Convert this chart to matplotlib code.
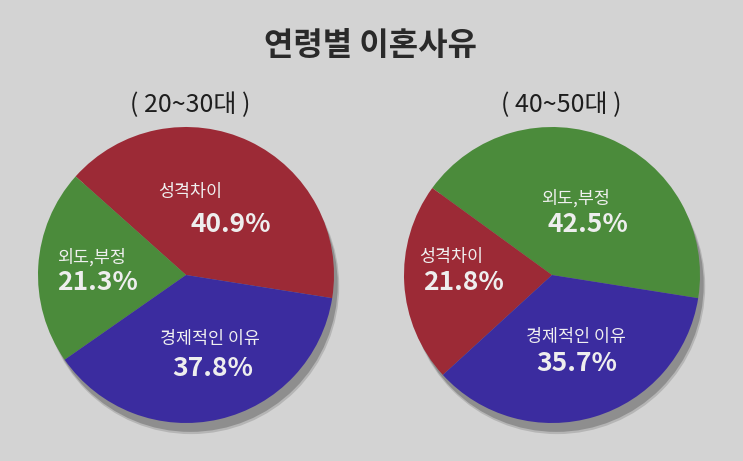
"""
연령별 이혼사유 — two pie charts (20~30대 vs 40~50대) on a gray card.
"""

import matplotlib
matplotlib.use("Agg")
import matplotlib.pyplot as plt
from matplotlib.patches import Circle

plt.rcParams['font.family'] = ['Noto Sans CJK KR', 'DejaVu Sans']

# ------------------------------------------------------------------
TITLE = "연령별 이혼사유"
GROUPS = ["( 20~30대 )", "( 40~50대 )"]

# slices listed counter-clockwise from the right-hand boundary
left_labels = ["성격차이", "외도,부정", "경제적인 이유"]
left_values = [40.9, 21.3, 37.8]
right_labels = ["외도,부정", "성격차이", "경제적인 이유"]
right_values = [42.5, 21.8, 35.7]

COLORS = {"성격차이": "#9c2a36", "외도,부정": "#4b8b3b", "경제적인 이유": "#3b2c9f"}
BG = "#d3d3d3"

# label / percent positions inside each pie (data units, radius = 1)
left_name_xy = [(0.03, 0.56), (-0.64, 0.12), (0.16, -0.43)]
left_pct_xy = [(0.30, 0.34), (-0.60, -0.05), (0.18, -0.63)]
right_name_xy = [(0.16, 0.52), (-0.68, 0.12), (0.16, -0.42)]
right_pct_xy = [(0.24, 0.34), (-0.60, -0.05), (0.17, -0.60)]

W, H = 743, 461
R_PX = 148
LIM = 1.25
CENTERS = [(186, 275), (552, 275)]   # pixel centres of the two pies
# ------------------------------------------------------------------


def draw_pie(ax, labels, values, name_xy, pct_xy):
    # soft drop shadow behind the pie
    ax.add_patch(Circle((0.035, -0.075), 1.0, color="#b5b5b5", lw=0, zorder=0))
    ax.add_patch(Circle((0.03, -0.065), 0.995, color="#8e8e8e", lw=0, zorder=0.5))
    ax.pie(values, colors=[COLORS[l] for l in labels], startangle=-9,
           counterclock=True, radius=1.0,
           wedgeprops=dict(linewidth=0, zorder=1))
    for lab, val, (nx, ny), (px, py) in zip(labels, values, name_xy, pct_xy):
        ax.text(nx, ny, lab, ha="center", va="center", color="#f0f0f0",
                fontsize=12.5, fontweight="medium", zorder=3)
        ax.text(px, py, f"{val:.1f}%", ha="center", va="center",
                color="#eeeeee", fontsize=19, fontweight="bold", zorder=3)
    ax.set_xlim(-LIM, LIM)
    ax.set_ylim(-LIM, LIM)
    ax.set_aspect("equal")
    ax.axis("off")


fig = plt.figure(figsize=(W / 100, H / 100), dpi=100, facecolor=BG)
size = 2 * LIM * R_PX
axes = []
for cx, cy in CENTERS:
    ax = fig.add_axes([(cx - size / 2) / W, (H - cy - size / 2) / H,
                       size / W, size / H])
    ax.patch.set_alpha(0)
    axes.append(ax)

draw_pie(axes[0], left_labels, left_values, left_name_xy, left_pct_xy)
draw_pie(axes[1], right_labels, right_values, right_name_xy, right_pct_xy)

fig.text(370 / W, 1 - 46 / H, TITLE, ha="center", va="center",
         fontsize=23, color="#2a2a2a", fontweight="bold")
fig.text(190 / W, 1 - 105 / H, GROUPS[0], ha="center", va="center",
         fontsize=18, color="#1e1e1e", fontweight="medium")
fig.text(561 / W, 1 - 105 / H, GROUPS[1], ha="center", va="center",
         fontsize=18, color="#1e1e1e", fontweight="medium")

fig.savefig("out.png", dpi=100, facecolor=BG)
